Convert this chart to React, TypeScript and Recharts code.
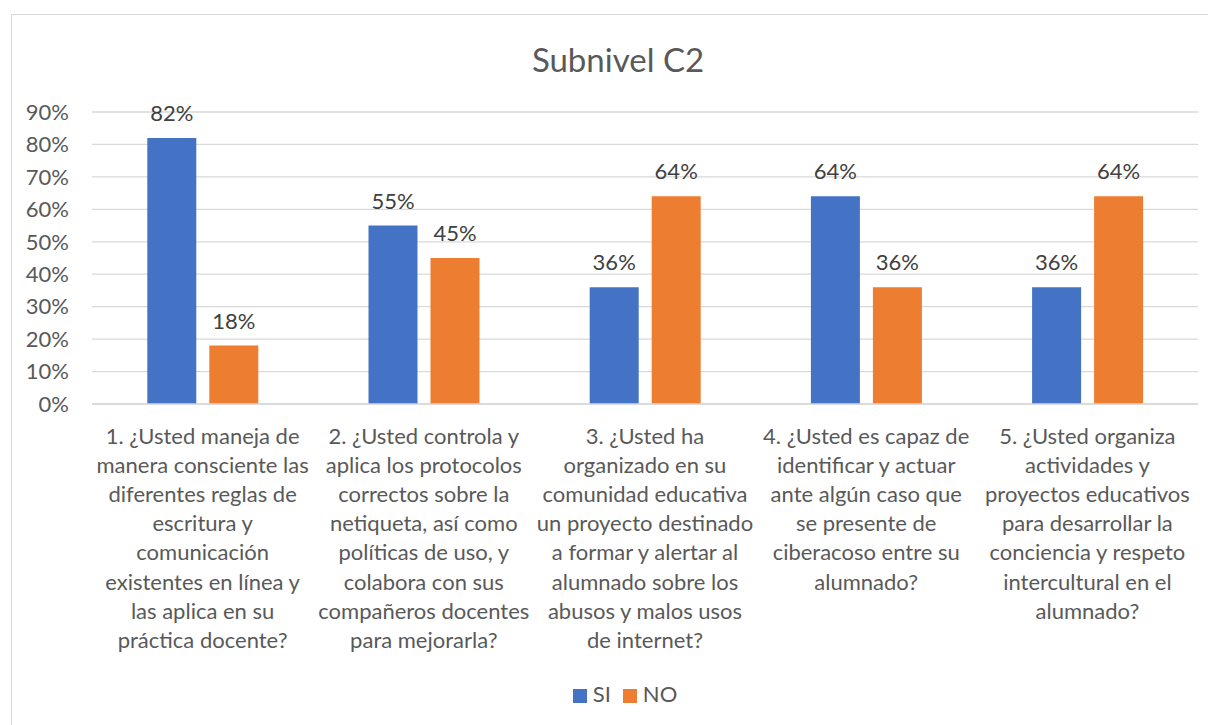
import { BarChart, Bar, XAxis, YAxis, CartesianGrid, Legend, LabelList } from 'recharts'

const questionLines: string[][] = [
  ['1. ¿Usted maneja de', 'manera consciente las', 'diferentes reglas de', 'escritura y', 'comunicación', 'existentes en línea y', 'las aplica en su', 'práctica docente?'],
  ['2. ¿Usted controla y', 'aplica los protocolos', 'correctos sobre la', 'netiqueta, así como', 'políticas de uso, y', 'colabora con sus', 'compañeros docentes', 'para mejorarla?'],
  ['3. ¿Usted ha', 'organizado en su', 'comunidad educativa', 'un proyecto destinado', 'a formar y alertar al', 'alumnado sobre los', 'abusos y malos usos', 'de internet?'],
  ['4. ¿Usted es capaz de', 'identificar y actuar', 'ante algún caso que', 'se presente de', 'ciberacoso entre su', 'alumnado?'],
  ['5. ¿Usted organiza', 'actividades y', 'proyectos educativos', 'para desarrollar la', 'conciencia y respeto', 'intercultural en el', 'alumnado?'],
]
const siValues = [0.82, 0.55, 0.36, 0.64, 0.36]
const noValues = [0.18, 0.45, 0.64, 0.36, 0.64]
const yTicks = [0, 0.1, 0.2, 0.3, 0.4, 0.5, 0.6, 0.7, 0.8, 0.9]
const seriesOrder = ['SI', 'NO']

const FONT = 'Lato, "Liberation Sans", sans-serif'
const TEXT = '#595959'

const data = questionLines.map((lines, i) => ({
  question: lines.join('\n'),
  SI: siValues[i],
  NO: noValues[i],
}))

const pct = (v: number) => `${Math.round(v * 100)}%`

const QuestionTick = (props: any) => {
  const { x, y, payload } = props
  const lines: string[] = String(payload.value).split('\n')
  return (
    <g transform={`translate(${x},${y})`}>
      <text textAnchor="middle" fill={TEXT} fontSize={22} fontFamily={FONT}>
        {lines.map((line, i) => (
          <tspan key={i} x={0} dy={i === 0 ? 40 : 29.1}>{line}</tspan>
        ))}
      </text>
    </g>
  )
}

export default function App() {
  return (
    <div style={{ position: 'relative', width: 1208, height: 717, fontFamily: FONT }}>
      <div style={{ position: 'absolute', left: 3, top: 6, width: 1220, height: 730, border: '1px solid #d9d9d9', boxSizing: 'border-box' }} />
      <div style={{ position: 'absolute', left: 0, width: 1220, top: 31, textAlign: 'center', fontSize: 33, color: TEXT, lineHeight: '40px' }}>
        Subnivel C2
      </div>
      <BarChart
        width={1208}
        height={717}
        data={data}
        margin={{ top: 104, right: 18, bottom: 18, left: 0 }}
        barCategoryGap="25%"
        barGap={13}
      >
        <CartesianGrid vertical={false} stroke="#d9d9d9" strokeWidth={1.3} />
        <XAxis
          dataKey="question"
          height={276}
          interval={0}
          tickLine={false}
          tickSize={0}
          tickMargin={0}
          axisLine={{ stroke: '#d9d9d9', strokeWidth: 1.3 }}
          tick={<QuestionTick />}
        />
        <YAxis
          width={84}
          domain={[0, 0.9]}
          ticks={yTicks}
          tickFormatter={pct}
          axisLine={false}
          tickLine={false}
          tickSize={0}
          tickMargin={23}
          tick={{ fill: TEXT, fontSize: 22, fontFamily: FONT }}
          interval={0}
        />
        <Legend
          verticalAlign="bottom"
          iconType="square"
          iconSize={14}
          itemSorter={(item: any) => seriesOrder.indexOf(String(item.value))}
          wrapperStyle={{ fontSize: 22, fontFamily: FONT, paddingLeft: 28 }}
          formatter={(value: string) => <span style={{ color: TEXT, marginLeft: 2, marginRight: 2 }}>{value}</span>}
        />
        <Bar dataKey="SI" fill="#4472C4" isAnimationActive={false}>
          <LabelList dataKey="SI" position="top" offset={17} formatter={(v: any) => pct(Number(v))} fill="#404040" fontSize={22} fontFamily={FONT} />
        </Bar>
        <Bar dataKey="NO" fill="#ED7D31" isAnimationActive={false}>
          <LabelList dataKey="NO" position="top" offset={17} formatter={(v: any) => pct(Number(v))} fill="#404040" fontSize={22} fontFamily={FONT} />
        </Bar>
      </BarChart>
    </div>
  )
}
